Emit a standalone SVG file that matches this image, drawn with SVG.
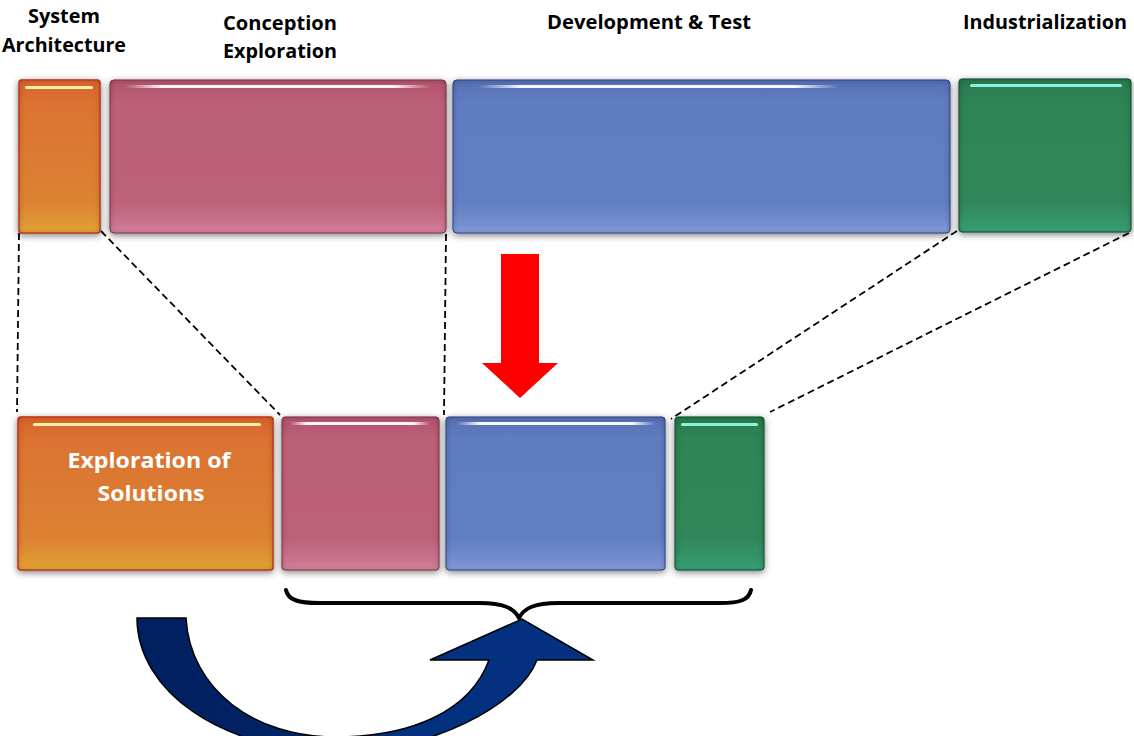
<svg xmlns="http://www.w3.org/2000/svg" width="1134" height="736" viewBox="0 0 1134 736">
<defs>
<style>
.lbl{font-family:"Open Sans","Liberation Sans",sans-serif;font-weight:bold;font-size:19px;fill:#000}
.wlbl{font-family:"Open Sans","Liberation Sans",sans-serif;font-weight:bold;font-size:22px;fill:#fff}
.dash{stroke:#000;stroke-width:1.8;stroke-dasharray:7 4;fill:none}
.box{filter:url(#bev)}
.hl{fill:url(#hlg)}
</style>
<filter id="bev" x="-10%" y="-10%" width="120%" height="125%">
<feGaussianBlur in="SourceAlpha" stdDeviation="3.5" result="b"/>
<feOffset in="b" dy="2" result="ob"/>
<feFlood flood-color="#000" flood-opacity="0.5"/>
<feComposite in2="ob" operator="in" result="shadow"/>
<feFlood flood-color="#000" flood-opacity="0.6" result="f2"/>
<feComposite in="f2" in2="SourceAlpha" operator="out" result="outside"/>
<feGaussianBlur in="outside" stdDeviation="3" result="ob2"/>
<feComposite in="ob2" in2="SourceAlpha" operator="in" result="inner"/>
<feMerge><feMergeNode in="shadow"/><feMergeNode in="SourceGraphic"/><feMergeNode in="inner"/></feMerge>
</filter>
<filter id="soft" x="-5%" y="-200%" width="110%" height="500%">
<feGaussianBlur stdDeviation="0.6"/>
</filter>
<linearGradient id="gO" x1="0" y1="0" x2="0" y2="1">
<stop offset="0" stop-color="#D9622E"/><stop offset="0.15" stop-color="#DB7232"/><stop offset="0.8" stop-color="#DC8232"/><stop offset="0.95" stop-color="#E09A34"/><stop offset="1" stop-color="#E4A834"/>
</linearGradient>
<linearGradient id="gP" x1="0" y1="0" x2="0" y2="1">
<stop offset="0" stop-color="#B3546D"/><stop offset="0.15" stop-color="#BC5F78"/><stop offset="0.8" stop-color="#BE627A"/><stop offset="0.95" stop-color="#CC7690"/><stop offset="1" stop-color="#D888A0"/>
</linearGradient>
<linearGradient id="gB" x1="0" y1="0" x2="0" y2="1">
<stop offset="0" stop-color="#5770B5"/><stop offset="0.15" stop-color="#607CC0"/><stop offset="0.8" stop-color="#627EC2"/><stop offset="0.95" stop-color="#7890D2"/><stop offset="1" stop-color="#88A2DE"/>
</linearGradient>
<linearGradient id="gG" x1="0" y1="0" x2="0" y2="1">
<stop offset="0" stop-color="#2B7A4E"/><stop offset="0.15" stop-color="#2F8455"/><stop offset="0.8" stop-color="#30875A"/><stop offset="0.95" stop-color="#35986D"/><stop offset="1" stop-color="#3BA57F"/>
</linearGradient>
<linearGradient id="hlg" x1="0" y1="0" x2="1" y2="0">
<stop offset="0" stop-color="#fff" stop-opacity="0"/><stop offset="0.12" stop-color="#fff" stop-opacity="0.95"/><stop offset="0.88" stop-color="#fff" stop-opacity="0.95"/><stop offset="1" stop-color="#fff" stop-opacity="0"/>
</linearGradient>
<linearGradient id="gArc" x1="0" y1="0" x2="1" y2="0">
<stop offset="0" stop-color="#012060"/><stop offset="0.45" stop-color="#012365"/><stop offset="0.55" stop-color="#03307F"/><stop offset="1" stop-color="#03307F"/>
</linearGradient>
</defs>
<rect width="1134" height="736" fill="#fff"/>

<g id="labels">
<text class="lbl" x="64" y="23" text-anchor="middle" textLength="72" lengthAdjust="spacingAndGlyphs">System</text>
<text class="lbl" x="64" y="52" text-anchor="middle" textLength="124" lengthAdjust="spacingAndGlyphs">Architecture</text>
<text class="lbl" x="223" y="30" textLength="114" lengthAdjust="spacingAndGlyphs">Conception</text>
<text class="lbl" x="223" y="58" textLength="114" lengthAdjust="spacingAndGlyphs">Exploration</text>
<text class="lbl" x="547" y="29" textLength="204" lengthAdjust="spacingAndGlyphs">Development &amp; Test</text>
<text class="lbl" x="963" y="29" textLength="164" lengthAdjust="spacingAndGlyphs">Industrialization</text>
</g>

<g id="connectors">
<line class="dash" x1="19" y1="233" x2="17" y2="412"/>
<line class="dash" x1="101" y1="231" x2="280" y2="415"/>
<line class="dash" x1="446" y1="234" x2="444" y2="415"/>
<line class="dash" x1="957" y1="231" x2="671" y2="419"/>
<line class="dash" x1="1129" y1="233" x2="770" y2="412"/>
</g>

<g id="top-system-architecture">
<rect class="box" x="19" y="80" width="81" height="153" rx="3" fill="url(#gO)" stroke="#D8452A" stroke-width="1.5"/>
<rect class="hl" x="25" y="86" width="68" height="3" rx="1.5" style="fill:#FFF3A8" filter="url(#soft)"/>
</g>
<g id="top-conception">
<rect class="box" x="110" y="80" width="336" height="153" rx="4" fill="url(#gP)" stroke="#97405A" stroke-width="1"/>
<rect class="hl" x="125" y="85" width="305" height="3" rx="1.5" filter="url(#soft)"/>
</g>
<g id="top-development">
<rect class="box" x="453" y="80" width="497" height="153" rx="4" fill="url(#gB)" stroke="#3F539C" stroke-width="1"/>
<rect class="hl" x="478" y="85" width="360" height="3" rx="1.5" filter="url(#soft)"/>
</g>
<g id="top-industrialization">
<rect class="box" x="959" y="79" width="172" height="153" rx="3" fill="url(#gG)" stroke="#245C3D" stroke-width="1"/>
<rect class="hl" x="970" y="84" width="152" height="3" rx="1.5" style="fill:#8FF0DA" filter="url(#soft)"/>
</g>

<g id="red-arrow">
<polygon points="501,254 539,254 539,363 558,363 520,398 482,363 501,363" fill="#FF0000"/>
</g>

<g id="bottom-exploration">
<rect class="box" x="18" y="417" width="255" height="153" rx="3" fill="url(#gO)" stroke="#D8452A" stroke-width="1.5"/>
<rect class="hl" x="33" y="423" width="228" height="3" rx="1.5" style="fill:#FFF3A8" filter="url(#soft)"/>
<text class="wlbl" x="149" y="468" text-anchor="middle" textLength="163" lengthAdjust="spacingAndGlyphs">Exploration of</text>
<text class="wlbl" x="151" y="501" text-anchor="middle" textLength="107" lengthAdjust="spacingAndGlyphs">Solutions</text>
</g>
<g id="bottom-conception">
<rect class="box" x="282" y="417" width="157" height="153" rx="3" fill="url(#gP)" stroke="#97405A" stroke-width="1"/>
<rect class="hl" x="290" y="422" width="140" height="3" rx="1.5" filter="url(#soft)"/>
</g>
<g id="bottom-development">
<rect class="box" x="446" y="417" width="219" height="153" rx="3" fill="url(#gB)" stroke="#3F539C" stroke-width="1"/>
<rect class="hl" x="456" y="422" width="200" height="3" rx="1.5" filter="url(#soft)"/>
</g>
<g id="bottom-industrialization">
<rect class="box" x="675" y="417" width="89" height="153" rx="3" fill="url(#gG)" stroke="#245C3D" stroke-width="1"/>
<rect class="hl" x="681" y="423" width="77" height="3" rx="1.5" style="fill:#8FF0DA" filter="url(#soft)"/>
</g>

<g id="brace">
<path d="M286,590 C288,600 298,603 320,603 L480,603 C503,603 514,608 519,618 C524,608 535,603 558,603 L720,603 C740,603 749,600 751,590" fill="none" stroke="#000" stroke-width="4" stroke-linecap="round" stroke-linejoin="round"/>
</g>

<g id="curved-arrow">
<path d="M186,618 C190,690 255,737 335,737 C410,737 470,712 489,660 L430,660 L522,619 L593,660 L537,660 C520,705 430,752 340,752 C220,752 137,690 137,618 Z" fill="url(#gArc)" stroke="#000" stroke-width="1.5" stroke-linejoin="miter"/>
</g>
</svg>
